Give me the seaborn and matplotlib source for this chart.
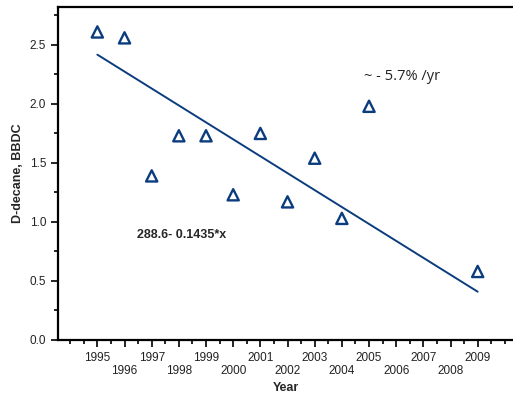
import numpy as np
import pandas as pd
import seaborn as sns
import matplotlib.pyplot as plt
from matplotlib.ticker import MultipleLocator

# valores
anios = [1995, 1996, 1997, 1998, 1999, 2000, 2001, 2002, 2003, 2004, 2005, 2009]
dodecano = [2.61, 2.56, 1.39, 1.73, 1.73, 1.23, 1.75, 1.17, 1.54, 1.03, 1.98, 0.58]
etiquetas_anio = list(range(1995, 2010))

# recta de tendencia (coeficientes estimados de la figura)
intercepto = 288.7
pendiente = -0.1435

datos = pd.DataFrame({'Year': anios, 'val': dodecano})
extremos = np.array([min(anios), max(anios)])
recta = pd.DataFrame({'Year': extremos, 'val': intercepto + pendiente * extremos})

sns.set_style('ticks')
plt.rcParams['font.family'] = ['Liberation Sans', 'DejaVu Sans']
azul = '#0b3d7e'

fig = plt.figure(figsize=(5.13, 3.98), dpi=100)
ax = fig.add_axes([0.113, 0.146, 0.887, 0.836])

sns.lineplot(data=recta, x='Year', y='val', ax=ax, color=azul, lw=1.4)
sns.scatterplot(data=datos, x='Year', y='val', ax=ax, marker='^', s=65,
                facecolor='none', edgecolor=azul, linewidth=1.7, zorder=3)

ax.set_xlim(1993.55, 2010.3)
ax.set_ylim(0, 2.82)
ax.yaxis.set_major_locator(MultipleLocator(0.5))
ax.yaxis.set_minor_locator(MultipleLocator(0.25))
ax.set_xticks(etiquetas_anio)
ax.set_xticklabels([str(a) if a % 2 == 1 else '\n' + str(a) for a in etiquetas_anio])
ax.xaxis.set_minor_locator(MultipleLocator(0.5))
ax.tick_params(which='major', length=5, width=1.2, labelsize=8.5, color='black', labelcolor='#222222')
ax.tick_params(which='minor', length=3, width=1.2, color='black')
ax.set_yticklabels([f'{v:.1f}' for v in ax.get_yticks()])

for s in ['left', 'bottom', 'top']:
    ax.spines[s].set_linewidth(1.6)
    ax.spines[s].set_color('black')
ax.spines['right'].set_visible(False)

ax.set_xlabel('Year', fontsize=9, fontweight='bold', labelpad=3)
ax.set_ylabel('D-decane, BBDC', fontsize=9, fontweight='bold', labelpad=4)

ax.text(2004.8, 2.23, '~ - 5.7% /yr', fontsize=10.5, va='center',
        family=['Open Sans', 'DejaVu Sans'], color='#222222')
ax.text(1996.45, 0.89, '288.6- 0.1435*x', fontsize=9, fontweight='bold', va='center')

plt.savefig('out.png', dpi=100)
